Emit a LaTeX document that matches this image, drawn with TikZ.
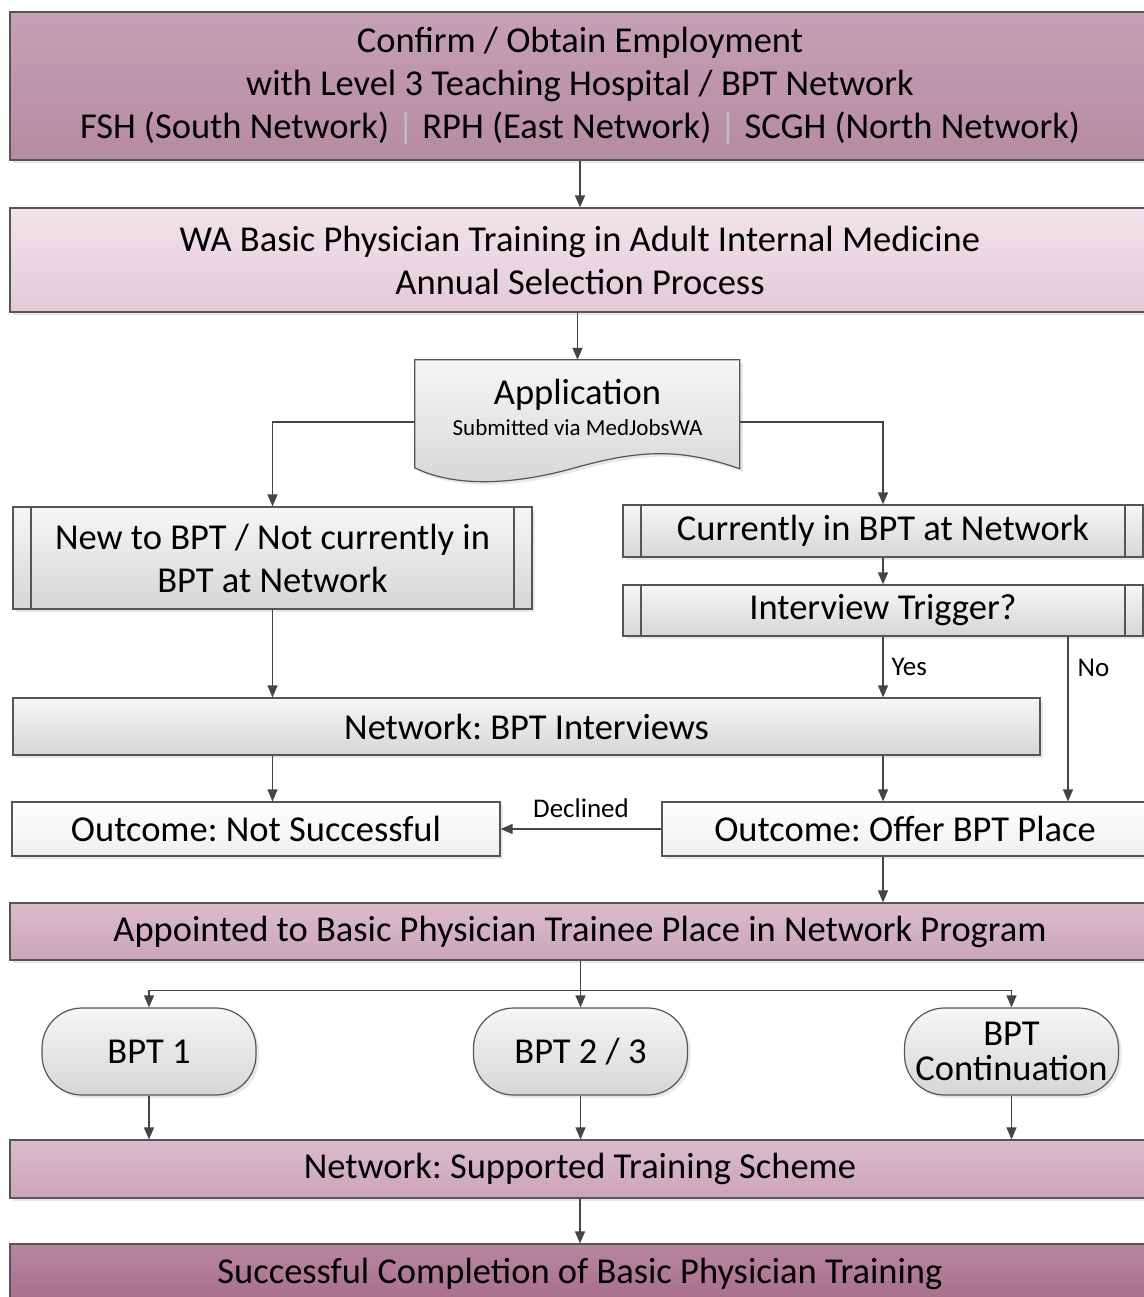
\documentclass[tikz,border=0pt]{standalone}
\usepackage{fontspec}
\setmainfont{Carlito}
\usetikzlibrary{positioning,arrows.meta,shadows}
\pgfdeclarelayer{background}
\pgfsetlayers{background,main}
\frenchspacing

\definecolor{edgegray}{HTML}{555555}
\definecolor{linegray}{HTML}{454545}
\definecolor{plumtop}{HTML}{C6A0B4}
\definecolor{plumbot}{HTML}{B68BA1}
\definecolor{pinktop}{HTML}{F3E3EB}
\definecolor{pinkbot}{HTML}{E2CAD6}
\definecolor{midtop}{HTML}{DBBCCB}
\definecolor{midbot}{HTML}{CBA5B7}
\definecolor{darktop}{HTML}{B8869F}
\definecolor{darkbot}{HTML}{A66E8B}
\definecolor{greytop}{HTML}{F6F6F6}
\definecolor{greybot}{HTML}{D6D6D6}

\begin{document}
\begin{tikzpicture}[x=1pt,y=-1pt,
							box/.style={draw=edgegray, line width=1.2pt, inner sep=0pt, align=center,
								font=\fontsize{36.5}{43}\selectfont,
								drop shadow={shadow xshift=3pt, shadow yshift=-3pt, fill=black!18}},
							plumbox/.style={box, top color=plumtop, bottom color=plumbot},
							pinkbox/.style={box, top color=pinktop, bottom color=pinkbot},
							midbox/.style={box, top color=midtop, bottom color=midbot},
							darkbox/.style={box, top color=darktop, bottom color=darkbot},
							greybox/.style={box, top color=greytop, bottom color=greybot},
							whitebox/.style={box, top color=white, bottom color=black!6},
							procbox/.style={greybox, path picture={
								\draw[edgegray, line width=1.2pt]
									([xshift=18pt]path picture bounding box.north west) -- ([xshift=18pt]path picture bounding box.south west)
									([xshift=-18pt]path picture bounding box.north east) -- ([xshift=-18pt]path picture bounding box.south east);}},
							termnode/.style={greybox, rounded corners=40pt, minimum width=214pt, minimum height=87pt},
							flow/.style={draw=linegray, line width=1.3pt, -{Triangle[length=12pt, width=10pt]}},
							edgelabel/.style={font=\fontsize{27}{30}\selectfont, inner sep=0pt},
							]
							\useasboundingbox (0,0) rectangle (1143,1297);
							%Nodes
							\node[plumbox, minimum width=1140pt, minimum height=148pt]	(employ)	at	(580,86)	{Confirm / Obtain Employment\\with Level 3 Teaching Hospital / BPT Network\\FSH (South Network) \textcolor{black!25}{|} RPH (East Network) \textcolor{black!25}{|} SCGH (North Network)};
							\node[pinkbox, minimum width=1140pt, minimum height=104pt]	(select)	at	(580,260)	{WA Basic Physician Training in Adult Internal Medicine\\Annual Selection Process};
							\node[inner sep=0pt, minimum width=325pt, minimum height=94pt, align=center]	(app)	at	(577.5,407)	{{\fontsize{36.5}{40}\selectfont Application}\\[8pt]{\fontsize{23}{26}\selectfont Submitted via MedJobsWA}};
							\node[procbox, minimum width=519pt, minimum height=102pt]	(newbpt)	at	(272.5,558)	{New to BPT / Not currently in\\BPT at Network};
							\node[procbox, minimum width=520pt, minimum height=52pt]	(current)	at	(883,531)	{Currently in BPT at Network};
							\node[procbox, minimum width=520pt, minimum height=51pt]	(trigger)	at	(883,610.5)	{Interview Trigger?};
							\node[greybox, minimum width=1027pt, minimum height=57pt]	(interview)	at	(526.5,726.5)	{Network: BPT Interviews};
							\node[whitebox, minimum width=488pt, minimum height=54pt]	(notsucc)	at	(256,829)	{Outcome: Not Successful};
							\node[whitebox, minimum width=486pt, minimum height=54pt]	(offer)	at	(905,829)	{Outcome: Offer BPT Place};
							\node[midbox, minimum width=1140pt, minimum height=57pt]	(appoint)	at	(580,931.5)	{Appointed to Basic Physician Trainee Place in Network Program};
							\node[termnode]	(bpt1)	at	(149,1051.5)	{BPT 1};
							\node[termnode]	(bpt23)	at	(580.5,1051.5)	{BPT 2 / 3};
							\node[termnode, font=\fontsize{36.5}{35}\selectfont]	(bptcont)	at	(1011.5,1051.5)	{BPT\\Continuation};
							\node[midbox, minimum width=1140pt, minimum height=58pt]	(scheme)	at	(580,1169)	{Network: Supported Training Scheme};
							\node[darkbox, minimum width=1140pt, minimum height=60pt]	(complete)	at	(580,1274)	{Successful Completion of Basic Physician Training};

							\begin{pgfonlayer}{background}
							\begin{scope}[shift={(app.north west)}]
							\draw[draw=edgegray, line width=1.2pt, top color=greytop, bottom color=greybot,
								drop shadow={shadow xshift=3pt, shadow yshift=-3pt, fill=black!18}]
								(0,0) -- (325,0) -- (325,109) .. controls (265,88) and (225,90) .. (160,108) .. controls (100,125) and (40,128) .. (0,108) -- cycle;
							\end{scope}
							\end{pgfonlayer}

							%Connectors
							\draw[flow] (employ) -- (select);
							\draw[flow] (select.south -| app.north) -- (app.north);
							\draw[flow] ([yshift=-15pt]app.west) -| (newbpt.north);
							\draw[flow] ([yshift=-15pt]app.east) -| (current.north);
							\draw[flow] (current) -- (trigger);
							\draw[flow] (trigger.south) -- (trigger.south |- interview.north) node[edgelabel, pos=0.5, right=8pt] {Yes};
							\draw[flow] ([xshift=185pt]trigger.south) -- ([xshift=185pt]trigger.south |- offer.north) node[edgelabel, pos=0.19, right=9pt] {No};
							\draw[flow] (newbpt) -- (newbpt.south |- interview.north);
							\draw[flow] (interview.south -| newbpt.south) -- (notsucc.north -| newbpt.south);
							\draw[flow] (interview.south -| trigger.south) -- (offer.north -| trigger.south);
							\draw[flow] (offer) -- (notsucc) node[edgelabel, midway, above=11pt] {Declined};
							\draw[flow] (offer.south -| trigger.south) -- (appoint.north -| trigger.south);
							\draw[flow] (appoint.south -| bpt23.north) -- (bpt23);
							\draw[flow] (appoint.south -| bpt23.north) -- ++(0,30) -| (bpt1.north);
							\draw[flow] (appoint.south -| bpt23.north) -- ++(0,30) -| (bptcont.north);
							\draw[flow] (bpt1) -- (bpt1.south |- scheme.north);
							\draw[flow] (bpt23) -- (bpt23.south |- scheme.north);
							\draw[flow] (bptcont) -- (bptcont.south |- scheme.north);
							\draw[flow] (scheme) -- (complete);
						\end{tikzpicture}
\end{document}
